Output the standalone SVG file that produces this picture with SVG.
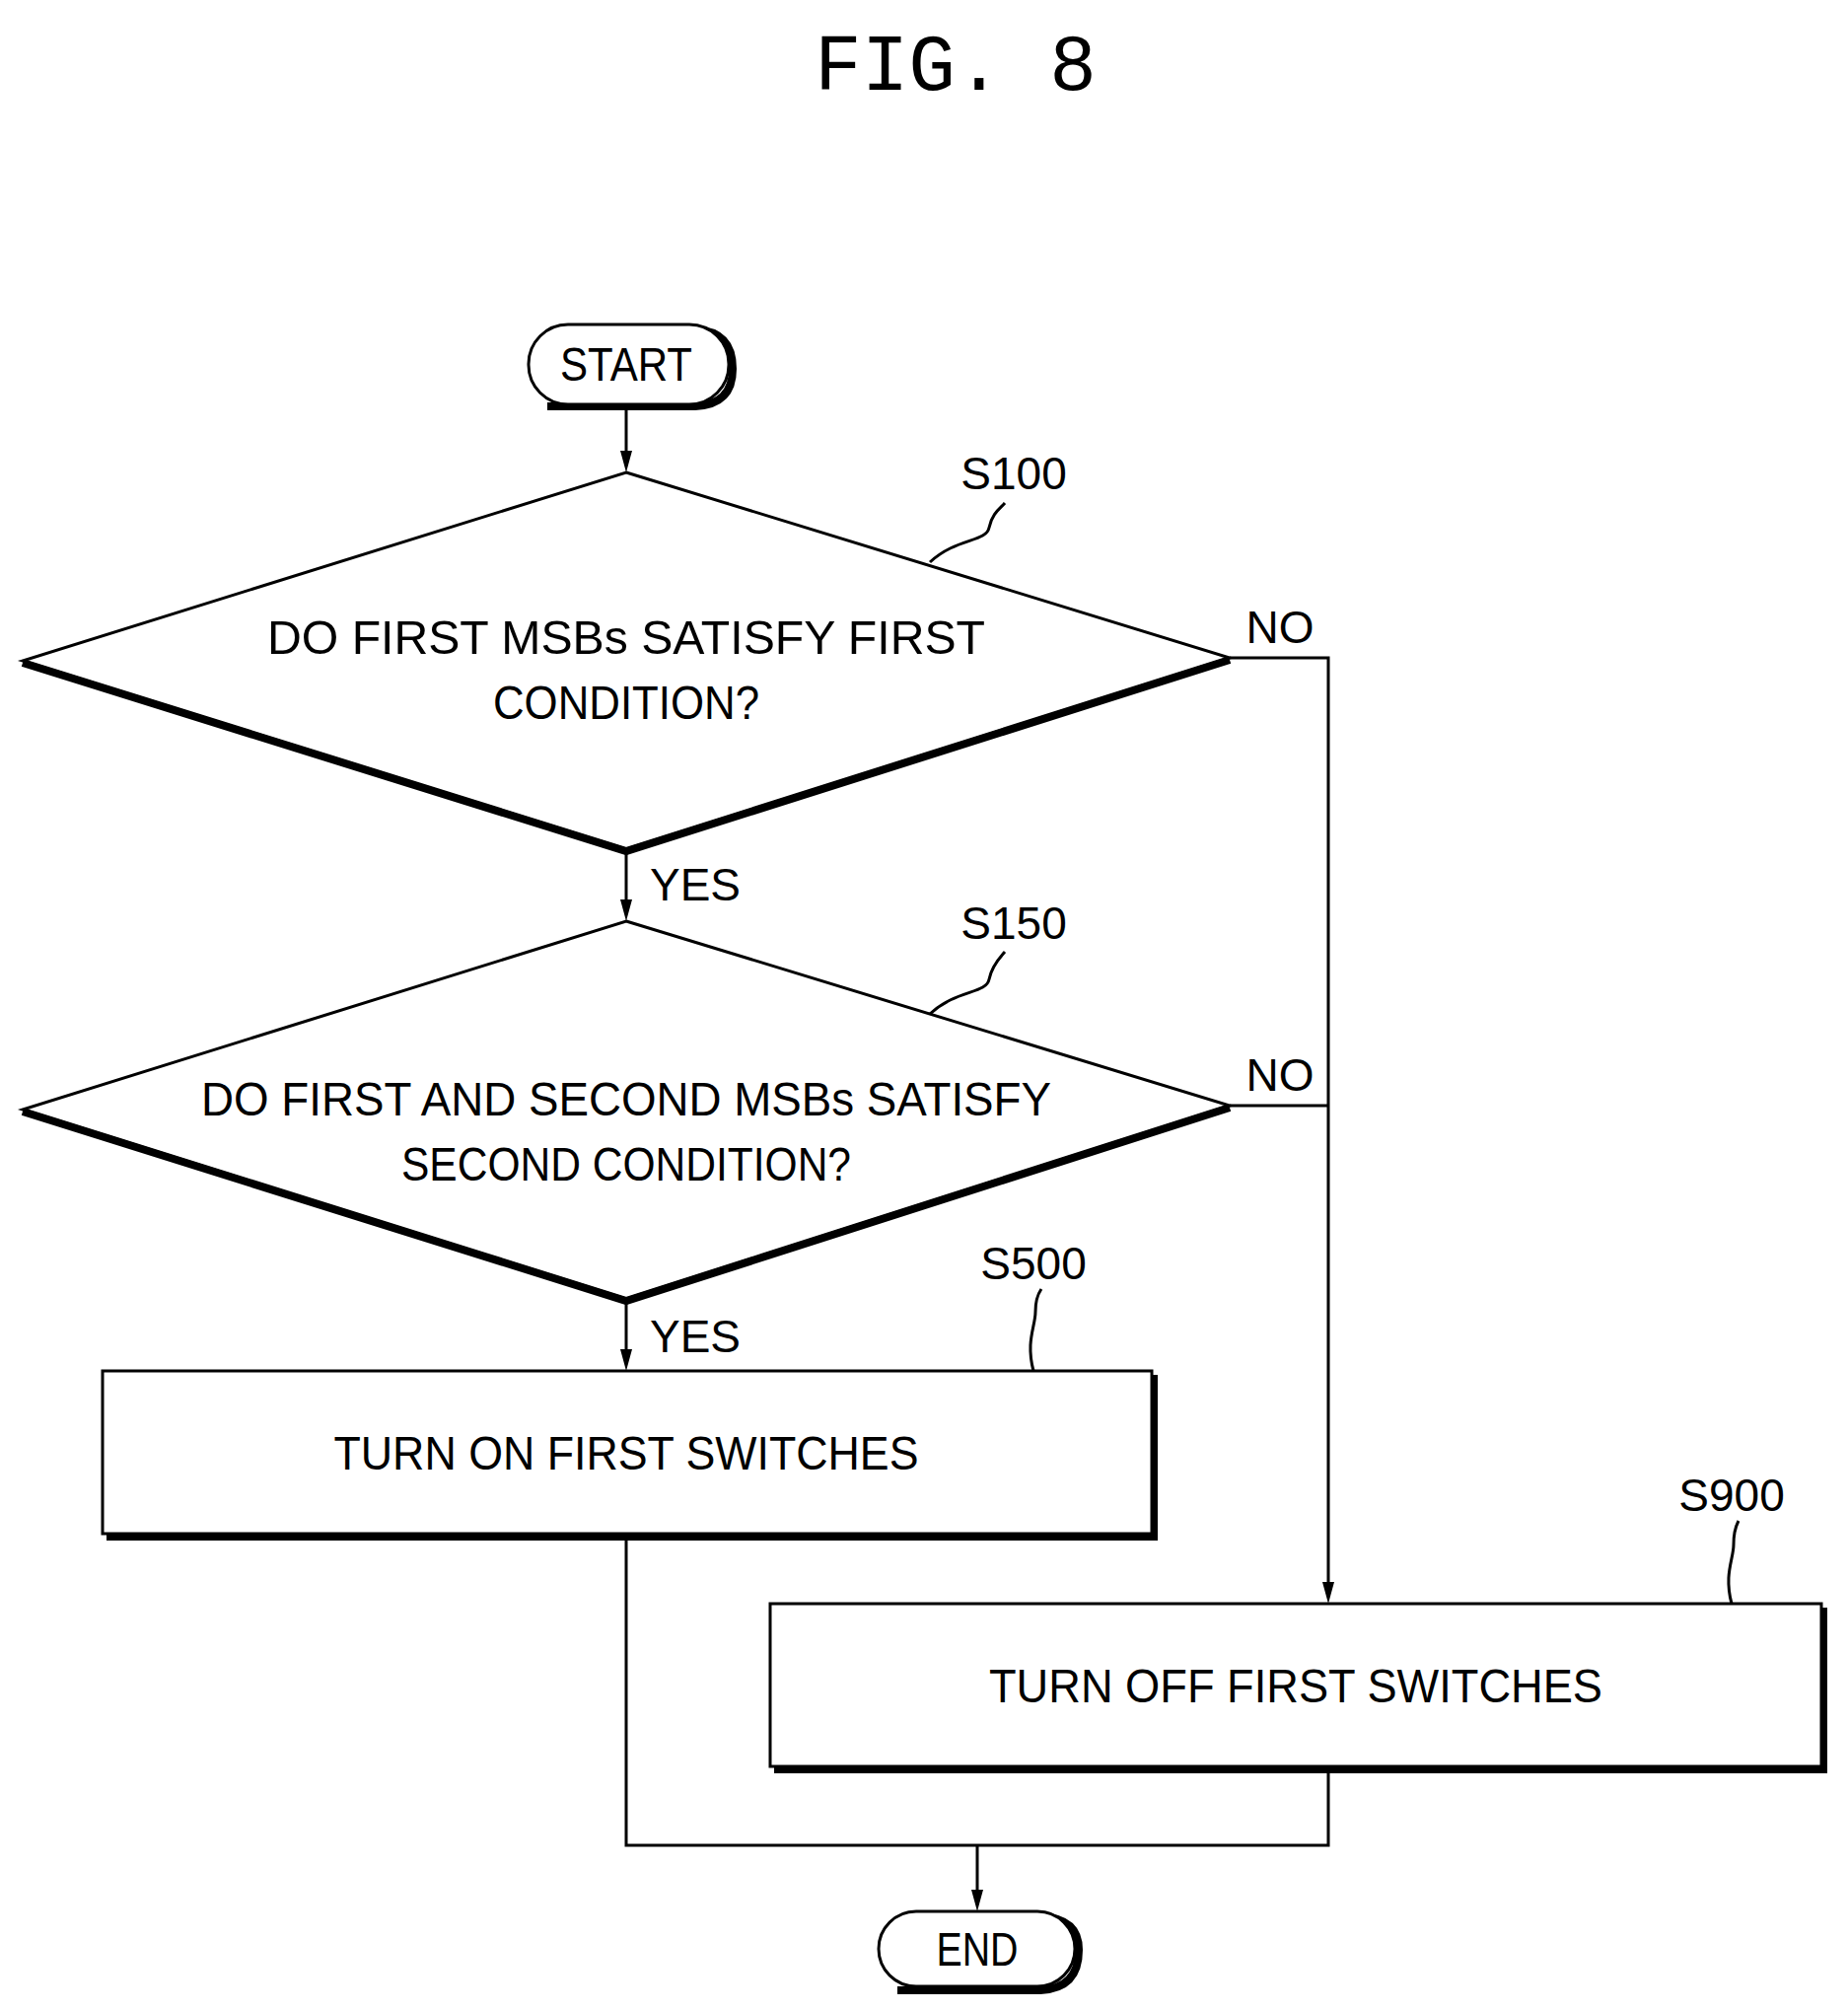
<svg xmlns="http://www.w3.org/2000/svg" width="1874" height="2039" viewBox="0 0 1874 2039">
<style>
text{font-family:"Liberation Sans",Arial,sans-serif;fill:#000}
.t{font-size:48px;text-anchor:middle}
.l{font-size:46px;text-anchor:middle}
.s{fill:#fff;stroke:#000;stroke-width:3}
.sh{fill:none;stroke:#000;stroke-width:8}
.c{fill:none;stroke:#000;stroke-width:3}
</style>
<rect width="1874" height="2039" fill="#fff"/>
<text x="969" y="91" style="font-family:'Liberation Mono','DejaVu Sans Mono',monospace;font-size:82px;text-anchor:middle" textLength="286" lengthAdjust="spacingAndGlyphs">FIG. 8</text>
<g id="start">
<path class="sh" d="M 705 334 Q 743 336 743 374 Q 743 410 705 412 L 555 412"/>
<rect class="s" x="536" y="329" width="203" height="81" rx="40"/>
<text class="t" x="635" y="386" textLength="134" lengthAdjust="spacingAndGlyphs">START</text>
</g>
<g id="s100">
<polygon class="s" points="635,479 1247,667 635,861 23,670"/>
<path class="sh" d="M23,672 L635,863 L1247,669"/>
<text class="t" x="635" y="663" textLength="728" lengthAdjust="spacingAndGlyphs">DO FIRST MSBs SATISFY FIRST</text>
<text class="t" x="635" y="729" textLength="270" lengthAdjust="spacingAndGlyphs">CONDITION?</text>
<text class="l" x="1028" y="496">S100</text>
<path class="c" d="M943,570 C970,545 1000,550 1003,535 C1006,520 1015,515 1019,510"/>
</g>
<g id="s150">
<polygon class="s" points="635,934 1247,1121 635,1317 23,1125"/>
<path class="sh" d="M23,1127 L635,1319 L1247,1123"/>
<text class="t" x="635" y="1131" textLength="862" lengthAdjust="spacingAndGlyphs">DO FIRST AND SECOND MSBs SATISFY</text>
<text class="t" x="635" y="1197" textLength="456" lengthAdjust="spacingAndGlyphs">SECOND CONDITION?</text>
<text class="l" x="1028" y="952">S150</text>
<path class="c" d="M943,1028 C970,1003 1000,1008 1003,993 C1006,978 1015,970 1019,965"/>
</g>
<g id="s500">
<path class="sh" d="M1170,1394 L1170,1558 L108,1558"/>
<rect class="s" x="104" y="1390" width="1064" height="165"/>
<text class="t" x="635" y="1490" textLength="593" lengthAdjust="spacingAndGlyphs">TURN ON FIRST SWITCHES</text>
<text class="l" x="1048" y="1297">S500</text>
<path class="c" d="M1048,1390 C1040,1360 1050,1345 1050,1330 C1050,1315 1054,1310 1056,1307"/>
</g>
<g id="s900">
<path class="sh" d="M1849,1630 L1849,1794 L785,1794"/>
<rect class="s" x="781" y="1626" width="1066" height="165"/>
<text class="t" x="1314" y="1726" textLength="622" lengthAdjust="spacingAndGlyphs">TURN OFF FIRST SWITCHES</text>
<text class="l" x="1756" y="1532">S900</text>
<path class="c" d="M1756,1626 C1748,1596 1758,1581 1758,1566 C1758,1551 1761,1546 1763,1542"/>
</g>
<g id="end">
<path class="sh" d="M1055,1943 Q1094,1945 1094,1977 Q1094,2016 1055,2018 L910,2018"/>
<rect class="s" x="891" y="1938" width="199" height="76" rx="38"/>
<text class="t" x="991" y="1993" textLength="83" lengthAdjust="spacingAndGlyphs">END</text>
</g>
<g id="connectors">
<path class="c" d="M635,410 L635,459"/>
<path d="M629,457 L641,457 L635,479 Z"/>
<path class="c" d="M635,861 L635,914"/>
<path d="M629,912 L641,912 L635,934 Z"/>
<path class="c" d="M635,1317 L635,1370"/>
<path d="M629,1368 L641,1368 L635,1390 Z"/>
<path class="c" d="M1247,667 L1347,667 L1347,1606"/>
<path d="M1341,1604 L1353,1604 L1347,1626 Z"/>
<path class="c" d="M1247,1121 L1347,1121"/>
<path class="c" d="M635,1555 L635,1871 L1347,1871 L1347,1791"/>
<path class="c" d="M991,1871 L991,1918"/>
<path d="M985,1916 L997,1916 L991,1938 Z"/>
<text class="l" x="1298" y="652">NO</text>
<text class="l" x="1298" y="1106">NO</text>
<text class="l" x="705" y="913">YES</text>
<text class="l" x="705" y="1371">YES</text>
</g>
</svg>
